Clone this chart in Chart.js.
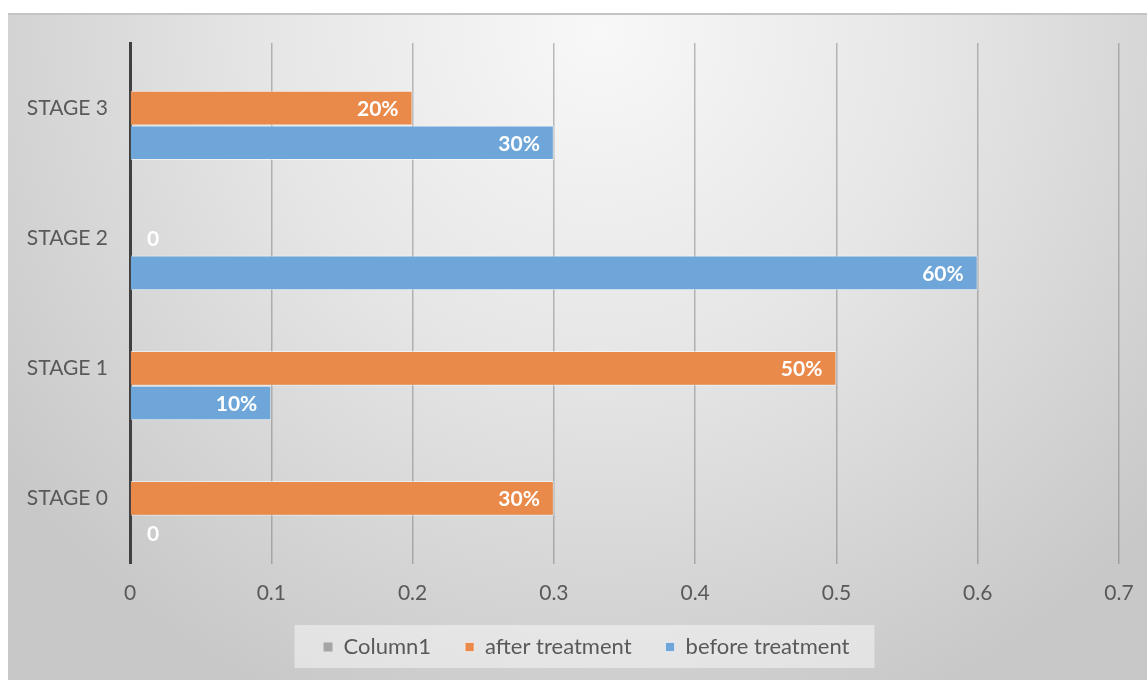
<!DOCTYPE html>
<html>
<head>
<meta charset="utf-8">
<script src="https://cdn.jsdelivr.net/npm/chart.js@4"></script>
<style>
  html, body { margin: 0; padding: 0; background: #fff; }
  #wrap { width: 1147px; height: 680px; }
</style>
</head>
<body>
<div id="wrap"><canvas id="myChart" width="1147" height="680"></canvas></div>
<script>
const categories = ['STAGE 0', 'STAGE 1', 'STAGE 2', 'STAGE 3'];
const beforeTreatment = [0, 0.1, 0.6, 0.3];
const afterTreatment = [0.3, 0.5, 0, 0.2];
const column1 = [null, null, null, null];
const xTickLabels = ['0', '0.1', '0.2', '0.3', '0.4', '0.5', '0.6', '0.7'];

// gradient frame behind the chart, like the Excel style
const frameBg = {
    id: 'frameBg',
    beforeDraw(chart) {
        const c = chart.ctx;
        c.save();
        c.fillStyle = '#ffffff';
        c.fillRect(0, 0, chart.width, chart.height);
        const g = c.createRadialGradient(600, 30, 0, 600, 30, 740);
        g.addColorStop(0, '#f8f8f8');
        g.addColorStop(0.45, '#e6e6e6');
        g.addColorStop(1, '#c8c8c8');
        c.fillStyle = g;
        c.fillRect(8, 13, chart.width - 8, chart.height - 13);
        c.fillStyle = '#c4c4c4';
        c.fillRect(8, 13, chart.width - 8, 2);
        c.restore();
    }
};

// legend sits a bit right of the canvas centre, with a light box behind it
const legendBox = {
    id: 'legendBox',
    afterLayout(chart) {
        chart.legend.left += 23;
        chart.legend.right += 23;
    },
    beforeDraw(chart) {
        const boxes = chart.legend && chart.legend.legendHitBoxes;
        if (!boxes || !boxes.length) return;
        const first = boxes[0], last = boxes[boxes.length - 1];
        const c = chart.ctx;
        c.save();
        c.fillStyle = 'rgba(245,245,245,0.55)';
        const x0 = first.left - 29, x1 = last.left + last.width + 25;
        const y0 = first.top - 11, y1 = first.top + first.height + 10;
        c.fillRect(x0, y0, x1 - x0, y1 - y0);
        c.restore();
    }
};

// value labels inside the end of the bars
const barLabels = {
    id: 'barLabels',
    afterDatasetsDraw(chart) {
        const c = chart.ctx;
        c.save();
        c.font = 'bold 21px Lato';
        c.fillStyle = '#ffffff';
        c.textBaseline = 'middle';
        chart.data.datasets.forEach((ds, di) => {
            const meta = chart.getDatasetMeta(di);
            meta.data.forEach((bar, i) => {
                const v = ds.data[i];
                if (v === null || v === undefined) return;
                const p = bar.getProps(['x', 'y', 'base'], true);
                if (v === 0) {
                    c.textAlign = 'left';
                    c.fillText('0', p.base + 17, p.y + 1);
                } else {
                    c.textAlign = 'right';
                    c.fillText(Math.round(v * 100) + '%', p.x - 14, p.y + 1);
                }
            });
        });
        c.restore();
    }
};

const ctx = document.getElementById('myChart').getContext('2d');
const myChart = new Chart(ctx, {
    type: 'bar',
    data: {
        labels: categories,
        datasets: [
            {
                label: 'Column1',
                data: column1,
                backgroundColor: '#a5a5a5'
            },
            {
                label: 'after treatment',
                data: afterTreatment,
                backgroundColor: '#e9894a',
                borderColor: 'rgba(255,255,255,0.55)',
                borderWidth: 1
            },
            {
                label: 'before treatment',
                data: beforeTreatment,
                backgroundColor: '#6ea6d9',
                borderColor: 'rgba(255,255,255,0.55)',
                borderWidth: 1
            }
        ]
    },
    options: {
        indexAxis: 'y',
        responsive: false,
        animation: false,
        categoryPercentage: 0.8,
        barPercentage: 1,
        layout: { padding: { left: 8, right: 28, top: 43, bottom: 12 } },
        plugins: {
            tooltip: { enabled: false },
            legend: {
                position: 'bottom',
                labels: {
                    boxWidth: 9,
                    boxHeight: 9,
                    padding: 34,
                    color: '#595959',
                    font: { family: 'Lato', size: 22 }
                }
            }
        },
        scales: {
            x: {
                type: 'linear',
                min: 0,
                max: 0.7,
                ticks: {
                    stepSize: 0.1,
                    padding: 17,
                    color: '#595959',
                    font: { family: 'Lato', size: 21 },
                    callback: function (value, index) {
                        return xTickLabels[index];
                    }
                },
                grid: {
                    color: 'rgba(110,110,110,0.45)',
                    lineWidth: 1.5,
                    drawTicks: false
                },
                border: { display: false },
                afterFit: function (scale) {
                    scale.height = 38.5;
                    scale.paddingRight = 0;
                }
            },
            y: {
                type: 'category',
                reverse: true,
                ticks: {
                    padding: 22,
                    color: '#595959',
                    font: { family: 'Lato', size: 21 }
                },
                grid: { display: false, drawTicks: false },
                border: { color: '#404040', width: 3 },
                afterFit: function (scale) { scale.width = 122; }
            }
        }
    },
    plugins: [frameBg, legendBox, barLabels]
});
</script>
</body>
</html>
